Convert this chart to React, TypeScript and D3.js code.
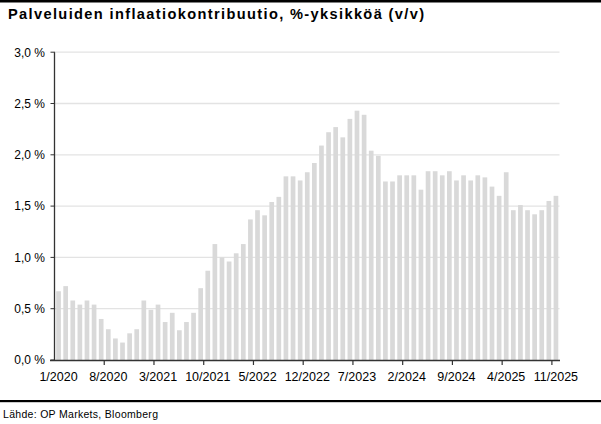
import React from "react";
import * as d3 from "d3";

const months: string[] = (() => {
  const out: string[] = [];
  for (let y = 2020; y <= 2025; y++) {
    for (let m = 1; m <= 12; m++) {
      if (y === 2025 && m > 11) break;
      out.push(`${m}/${y}`);
    }
  }
  return out;
})();

const values: number[] = [
  0.67, 0.72, 0.58, 0.54, 0.58, 0.54, 0.40, 0.30, 0.21, 0.17, 0.26, 0.30,
  0.58, 0.49, 0.54, 0.37, 0.46, 0.29, 0.37, 0.46, 0.70, 0.87, 1.13, 1.00,
  0.96, 1.04, 1.13, 1.37, 1.46, 1.41, 1.54, 1.59, 1.79, 1.79, 1.75, 1.83,
  1.92, 2.09, 2.22, 2.27, 2.17, 2.35, 2.43, 2.39, 2.04, 1.99, 1.74, 1.74,
  1.80, 1.80, 1.80, 1.66, 1.84, 1.84, 1.80, 1.84, 1.75, 1.80, 1.75, 1.80,
  1.78, 1.69, 1.60, 1.83, 1.46, 1.51, 1.46, 1.42, 1.46, 1.55, 1.60,
];

const yTicks: number[] = [0, 0.5, 1.0, 1.5, 2.0, 2.5, 3.0];
const xTickLabels: string[] = [
  "1/2020", "8/2020", "3/2021", "10/2021", "5/2022", "12/2022",
  "7/2023", "2/2024", "9/2024", "4/2025", "11/2025",
];

const title = "Palveluiden inflaatiokontribuutio, %-yksikköä (v/v)";
const source = "Lähde: OP Markets, Bloomberg";

export default function App() {
  const W = 601;
  const H = 424;
  const left = 55;
  const right = 559.5;
  const top = 52.2;
  const bottom = 360;

  const x = d3.scaleBand<string>().domain(months).range([left, right]).paddingInner(0.34).paddingOuter(0.17);
  const xb = d3.scaleBand<string>().domain(months).range([left, right]);
  const y = d3.scaleLinear().domain([0, 3]).range([bottom, top]);
  const fmt = (v: number) => d3.format(".1f")(v).replace(".", ",") + " %";
  const font = "'Liberation Sans', Arial, sans-serif";

  return (
    <div>
      <style>{`body{margin:0}`}</style>
      <svg width={W} height={H} style={{ display: "block", background: "#fff" }} fontFamily={font}>
        <rect x={0} y={0} width={W} height={2.5} fill="#000" />
        <text x={8} y={18.5} fontSize={14.6} fontWeight="bold" fill="#000" textLength={416} lengthAdjust="spacing">{title}</text>

        {yTicks.map((t) => (
          <g key={t}>
            {t > 0 && (
              <line x1={left} x2={right} y1={y(t)} y2={y(t)} stroke="#e3e3e3" strokeWidth={1.3} />
            )}
            <line x1={left - 4.5} x2={left} y1={y(t)} y2={y(t)} stroke="#333" strokeWidth={1} />
            <text x={45} y={y(t)} dy="0.36em" textAnchor="end" fontSize={12} fill="#000">{fmt(t)}</text>
          </g>
        ))}

        {months.map((m, i) => (
          <rect key={m} x={x(m)} y={y(values[i])} width={x.bandwidth()} height={y(0) - y(values[i])} fill="#d9d9d9" />
        ))}

        <line x1={left - 0.5} x2={left - 0.5} y1={top} y2={bottom + 0.5} stroke="#333" strokeWidth={1.3} />
        <line x1={left - 5} x2={right + 0.5} y1={bottom + 0.5} y2={bottom + 0.5} stroke="#333" strokeWidth={1.3} />

        {xTickLabels.map((lab) => {
          const bx = xb(lab)!;
          return (
            <g key={lab}>
              {lab !== "1/2020" && (
                <line x1={bx - 0.5} x2={bx - 0.5} y1={bottom} y2={bottom + 5} stroke="#333" strokeWidth={1.2} />
              )}
              <text x={bx + xb.bandwidth() / 2} y={381} textAnchor="middle" fontSize={12.5} fill="#000">{lab}</text>
            </g>
          );
        })}

        <rect x={0} y={400} width={W} height={2.2} fill="#000" />
        <text x={3} y={417.5} fontSize={10.5} fill="#000" textLength={155} lengthAdjust="spacing">{source}</text>
      </svg>
    </div>
  );
}
